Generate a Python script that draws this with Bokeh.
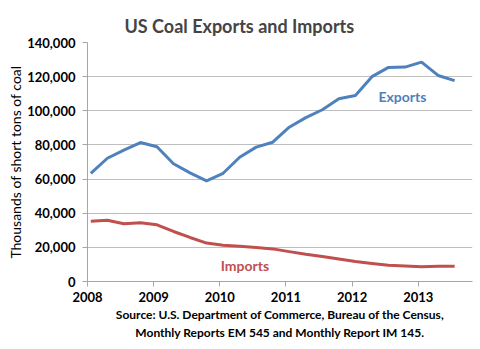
from bokeh.plotting import figure
from bokeh.models import FixedTicker, NumeralTickFormatter, Range1d, Label, Title
from bokeh.embed import file_html
from bokeh.resources import INLINE

# quarterly observations (decimal year)
years = [2008.05 + 0.25 * i for i in range(23)]
exports = [63400, 72200, 77000, 81400, 78900, 69000, 63600, 59000, 63400, 72800,
           78700, 81600, 90400, 96000, 100600, 107000, 109000, 120000, 125400,
           125600, 128500, 120700, 117700]
imports = [35300, 35900, 33800, 34400, 33200, 29300, 25800, 22500, 21300, 20700,
           19900, 19100, 17500, 16000, 14700, 13200, 11700, 10600, 9500, 9100,
           8600, 9000, 8900]
year_ticks = [2008, 2009, 2010, 2011, 2012, 2013]
y_ticks = [0, 20000, 40000, 60000, 80000, 100000, 120000, 140000]

FONT = "Lato"
BLUE = "#4F81BD"
RED = "#C0504D"

p = figure(width=480, height=349, output_backend="svg", toolbar_location=None,
           x_range=Range1d(2008, 2013.82), y_range=Range1d(0, 140000),
           min_border_left=87, min_border_right=8, min_border_top=42,
           min_border_bottom=68)
p.outline_line_color = None
p.background_fill_color = "white"
p.border_fill_color = "white"

p.title.text = "US Coal Exports and Imports"
p.title.text_font = FONT
p.title.text_font_size = "18px"
p.title.text_font_style = "bold"
p.title.align = "left"
p.title.offset = 37
p.title.standoff = 12

p.line(years, exports, line_color=BLUE, line_width=3)
p.line(years, imports, line_color=RED, line_width=3)

p.add_layout(Label(x=2012.76, y=108500, text="Exports", text_color=BLUE,
                   text_font=FONT, text_font_size="14px", text_font_style="bold",
                   text_align="center", text_baseline="middle"))
p.add_layout(Label(x=2010.38, y=9400, text="Imports", text_color=RED,
                   text_font=FONT, text_font_size="14px", text_font_style="bold",
                   text_align="center", text_baseline="middle"))

p.xgrid.visible = False
p.ygrid.grid_line_color = "#BFBFBF"
p.ygrid.ticker = FixedTicker(ticks=y_ticks)

p.xaxis.ticker = FixedTicker(ticks=year_ticks)
p.xaxis.formatter = NumeralTickFormatter(format="0")
p.yaxis.ticker = FixedTicker(ticks=y_ticks)
p.yaxis.formatter = NumeralTickFormatter(format="0,0")
for ax in (p.xaxis, p.yaxis):
    ax.axis_line_color = "#A6A6A6"
    ax.major_tick_line_color = "#A6A6A6"
    ax.major_tick_out = 5
    ax.major_tick_in = 0
    ax.minor_tick_line_color = None
    ax.major_label_text_font = FONT
    ax.major_label_text_font_size = "13px"
    ax.major_label_text_font_style = "bold"
    ax.major_label_text_color = "black"
p.yaxis.major_label_standoff = 7
p.xaxis.major_label_standoff = 5

p.yaxis.axis_label = "Thousands of short tons of coal"
p.yaxis.axis_label_text_font = FONT
p.yaxis.axis_label_text_font_size = "14px"
p.yaxis.axis_label_text_font_style = "normal"
p.yaxis.axis_label_text_color = "black"
p.yaxis.axis_label_standoff = 0

for line in ["Source: U.S. Department of Commerce, Bureau of the Census,",
             "Monthly Reports EM 545 and Monthly Report IM 145."]:
    t = Title(text=line, align="center", text_font=FONT, text_font_size="12px",
              text_font_style="bold", text_color="black", standoff=1)
    p.add_layout(t, "below")

open("out.html", "w").write(file_html(p, INLINE))
